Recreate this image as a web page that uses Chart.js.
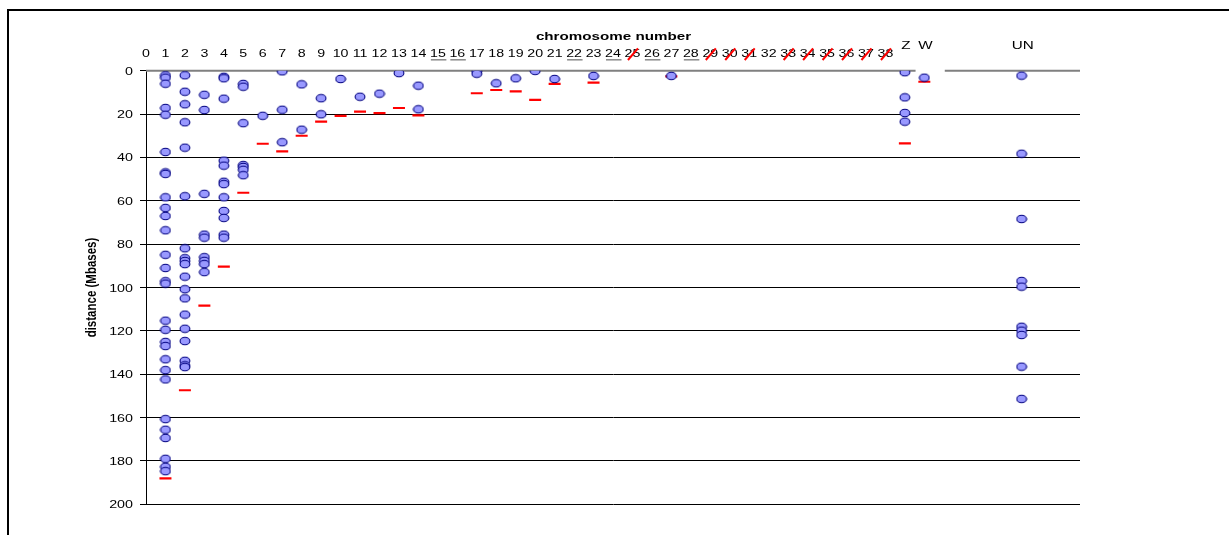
<!DOCTYPE html>
<html>
<head>
<meta charset="utf-8">
<script src="https://cdn.jsdelivr.net/npm/chart.js@4.4.1/dist/chart.umd.min.js"></script>
<style>
  html, body { margin: 0; padding: 0; background: #fff; }
  #wrap { position: relative; width: 1229px; height: 535px; overflow: hidden; }
  #frame { position: absolute; left: 7px; top: 9px; width: 1400px; height: 700px;
           border-top: 2px solid #000; border-left: 2px solid #000; }
  #c { position: absolute; left: 0; top: 0; }
</style>
</head>
<body>
<div id="wrap">
  <div id="frame"></div>
  <canvas id="c" width="1229" height="535"></canvas>
</div>
<script>
// ---- axis labels -------------------------------------------------------
const numberLabels = ['0','1','2','3','4','5','6','7','8','9','10','11','12','13','14','15','16','17','18','19',
                      '20','21','22','23','24','25','26','27','28','29','30','31','32','33','34','35','36','37','38'];
const extraLabels = ['Z', 'W', 'UN'];
const extraSlots = [39, 40, 45];
const underlinedLabels = ['15', '16', '22', '24', '26', '28'];
const struckLabels = ['25', '29', '30', '31', '33', '34', '35', '36', '37', '38'];
const xTitle = 'chromosome number';
const yTitle = 'distance (Mbases)';

// ---- marker positions per chromosome (Mbases) --------------------------
const chr1 = [2.1, 3.2, 6.0, 17.2, 20.3, 37.5, 46.9, 47.6, 58.4, 63.3, 67.0, 73.6, 84.9, 91.0, 97.1, 98.2,
              115.3, 119.5, 125.1, 127.0, 133.1, 138.1, 142.4, 160.7, 165.6, 169.4, 179.0, 182.7, 184.7];
const chr2 = [2.1, 9.7, 15.5, 23.8, 35.5, 57.9, 81.9, 86.5, 87.8, 89.2, 95.0, 100.8, 105.0, 112.5, 119.0,
              124.7, 133.8, 135.9, 136.7];
const chr3 = [11.1, 18.1, 56.8, 75.6, 77.0, 86.0, 87.7, 89.2, 92.9];
const chr4 = [2.8, 3.5, 12.9, 41.5, 43.8, 51.2, 52.3, 58.4, 64.7, 67.9, 75.6, 77.0];
const chr5 = [6.1, 7.4, 24.2, 43.5, 44.4, 45.7, 48.2];
const chr6 = [20.8];
const chr7 = [0.3, 18.0, 33.0];
const chr8 = [6.3, 27.2];
const chr9 = [12.7, 20.1];
const chr10 = [3.8];
const chr11 = [12.0];
const chr12 = [10.6];
const chr13 = [1.1];
const chr14 = [6.9, 17.8];
const chr17 = [0.1, 1.4];
const chr18 = [5.8];
const chr19 = [3.5];
const chr20 = [0.1];
const chr21 = [3.8];
const chr23 = [2.4];
const chr27 = [2.4];
const chrZ = [0.7, 12.3, 19.5, 23.5];
const chrW = [3.2];
const chrUN = [2.3, 38.3, 68.4, 97.0, 99.6, 118.1, 119.9, 121.9, 136.5, 151.4];

const markerSlots = [1, 2, 3, 4, 5, 6, 7, 8, 9, 10, 11, 12, 13, 14, 17, 18, 19, 20, 21, 23, 27, 39, 40, 45];
const markerLists = [chr1, chr2, chr3, chr4, chr5, chr6, chr7, chr8, chr9, chr10, chr11, chr12, chr13, chr14,
                     chr17, chr18, chr19, chr20, chr21, chr23, chr27, chrZ, chrW, chrUN];

// ---- chromosome ends (Mbases) ------------------------------------------
const endSlots = [1, 2, 3, 4, 5, 6, 7, 8, 9, 10, 11, 12, 13, 14, 17, 18, 19, 20, 21, 23, 27, 39, 40];
const endValues = [188.0, 147.4, 108.4, 90.4, 56.3, 33.7, 37.2, 30.0, 23.5, 20.8, 18.9, 19.6, 17.2, 20.6,
                   10.4, 8.9, 9.5, 13.5, 6.1, 5.5, 2.6, 33.5, 5.1];

const yTicks = [0, 20, 40, 60, 80, 100, 120, 140, 160, 180, 200];

// ---- build datasets ----------------------------------------------------
const markerPoints = [];
markerSlots.forEach((slot, i) => markerLists[i].forEach(v => markerPoints.push({ x: slot, y: v })));
const endPoints = endSlots.map((slot, i) => ({ x: slot, y: endValues[i] }));

// light blue oval marker with navy outline
function ovalMarker() {
  const c = document.createElement('canvas');
  c.width = 12; c.height = 10;
  const g = c.getContext('2d');
  g.beginPath();
  g.ellipse(6, 5, 4.9, 3.8, 0, 0, Math.PI * 2);
  g.fillStyle = '#9999FF';
  g.fill();
  g.lineWidth = 1.1;
  g.strokeStyle = '#000080';
  g.stroke();
  return c;
}

const FONT = "'Liberation Sans', Arial, sans-serif";
const topRuleGap = [39.55, 41.05];   // the rule is interrupted behind the W label

function stretched(ctx, text, x, y, sx, align, font) {
  ctx.save();
  ctx.font = font;
  ctx.textAlign = align;
  ctx.textBaseline = 'alphabetic';
  ctx.translate(x, y);
  ctx.scale(sx, 1);
  ctx.fillText(text, 0, 0);
  ctx.restore();
}

const decor = {
  id: 'decor',
  beforeDatasetsDraw(chart) {
    const { ctx, chartArea: a, scales: { x, y } } = chart;
    const y0 = y.getPixelForValue(0);
    ctx.save();
    ctx.strokeStyle = '#808080';
    ctx.lineWidth = 2;
    ctx.beginPath();
    ctx.moveTo(a.left, y0);
    ctx.lineTo(x.getPixelForValue(topRuleGap[0]), y0);
    ctx.moveTo(x.getPixelForValue(topRuleGap[1]), y0);
    ctx.lineTo(a.right, y0);
    ctx.stroke();
    ctx.restore();
  },
  afterDraw(chart) {
    const { ctx, chartArea: a, scales: { x, y } } = chart;
    ctx.save();
    ctx.fillStyle = '#000';
    // chromosome numbers along the top
    numberLabels.forEach((lab, i) => {
      const cx = x.getPixelForValue(i);
      stretched(ctx, lab, cx, 57, 1.42, 'center', `10px ${FONT}`);
      if (underlinedLabels.includes(lab)) {
        ctx.strokeStyle = '#8a8a8a';
        ctx.lineWidth = 1.5;
        ctx.beginPath();
        ctx.moveTo(cx - 7, 59.8);
        ctx.lineTo(cx + 8.5, 59.8);
        ctx.stroke();
      }
      if (struckLabels.includes(lab)) {
        ctx.strokeStyle = '#FF0000';
        ctx.lineWidth = 2;
        ctx.beginPath();
        ctx.moveTo(cx - 4.5, 60);
        ctx.lineTo(cx + 5.5, 48.3);
        ctx.stroke();
      }
    });
    extraLabels.forEach((lab, i) => {
      stretched(ctx, lab, x.getPixelForValue(extraSlots[i]) + 1, 48.5, 1.45, 'center', `10.5px ${FONT}`);
    });
    // axis titles
    stretched(ctx, xTitle, (a.left + a.right) / 2 + 0.5, 40, 1.38, 'center', `bold 11px ${FONT}`);
    ctx.save();
    ctx.translate(92, (a.top + a.bottom) / 2);
    ctx.scale(1.25, 1);
    ctx.rotate(-Math.PI / 2);
    ctx.font = `bold 11.5px ${FONT}`;
    ctx.textAlign = 'center';
    ctx.textBaseline = 'middle';
    ctx.fillText(yTitle, 0, 0);
    ctx.restore();
    // distance tick labels
    y.ticks.forEach(t => {
      stretched(ctx, String(t.value), a.left - 13, y.getPixelForValue(t.value) + 4, 1.3, 'right', `11px ${FONT}`);
    });
    ctx.restore();
  }
};

new Chart(document.getElementById('c'), {
  type: 'scatter',
  data: {
    datasets: [
      {
        label: 'markers',
        data: markerPoints,
        pointStyle: ovalMarker(),
        pointRadius: 5,
        showLine: false
      },
      {
        label: 'chromosome end',
        data: endPoints,
        pointStyle: 'line',
        pointRadius: 6,
        borderColor: '#FF0000',
        backgroundColor: '#FF0000',
        pointBorderWidth: 2.2,
        showLine: false
      }
    ]
  },
  options: {
    responsive: false,
    animation: false,
    events: [],
    layout: { padding: { top: 70.7, right: 149, bottom: 30.7, left: 0 } },
    plugins: { legend: { display: false }, tooltip: { enabled: false } },
    scales: {
      x: {
        type: 'linear',
        display: false,
        min: 0,
        max: 48
      },
      y: {
        type: 'linear',
        reverse: true,
        min: 0,
        max: 200,
        afterBuildTicks: s => { s.ticks = yTicks.map(v => ({ value: v })); },
        afterFit: s => { s.width = 146; },
        ticks: { display: false },
        grid: {
          color: c => (c.tick && c.tick.value === 0) ? 'rgba(0,0,0,0)' : '#000',
          tickColor: '#000',
          tickLength: 6,
          lineWidth: 1
        },
        border: { display: true, color: '#000', width: 1 }
      }
    }
  },
  plugins: [decor]
});
</script>
</body>
</html>
